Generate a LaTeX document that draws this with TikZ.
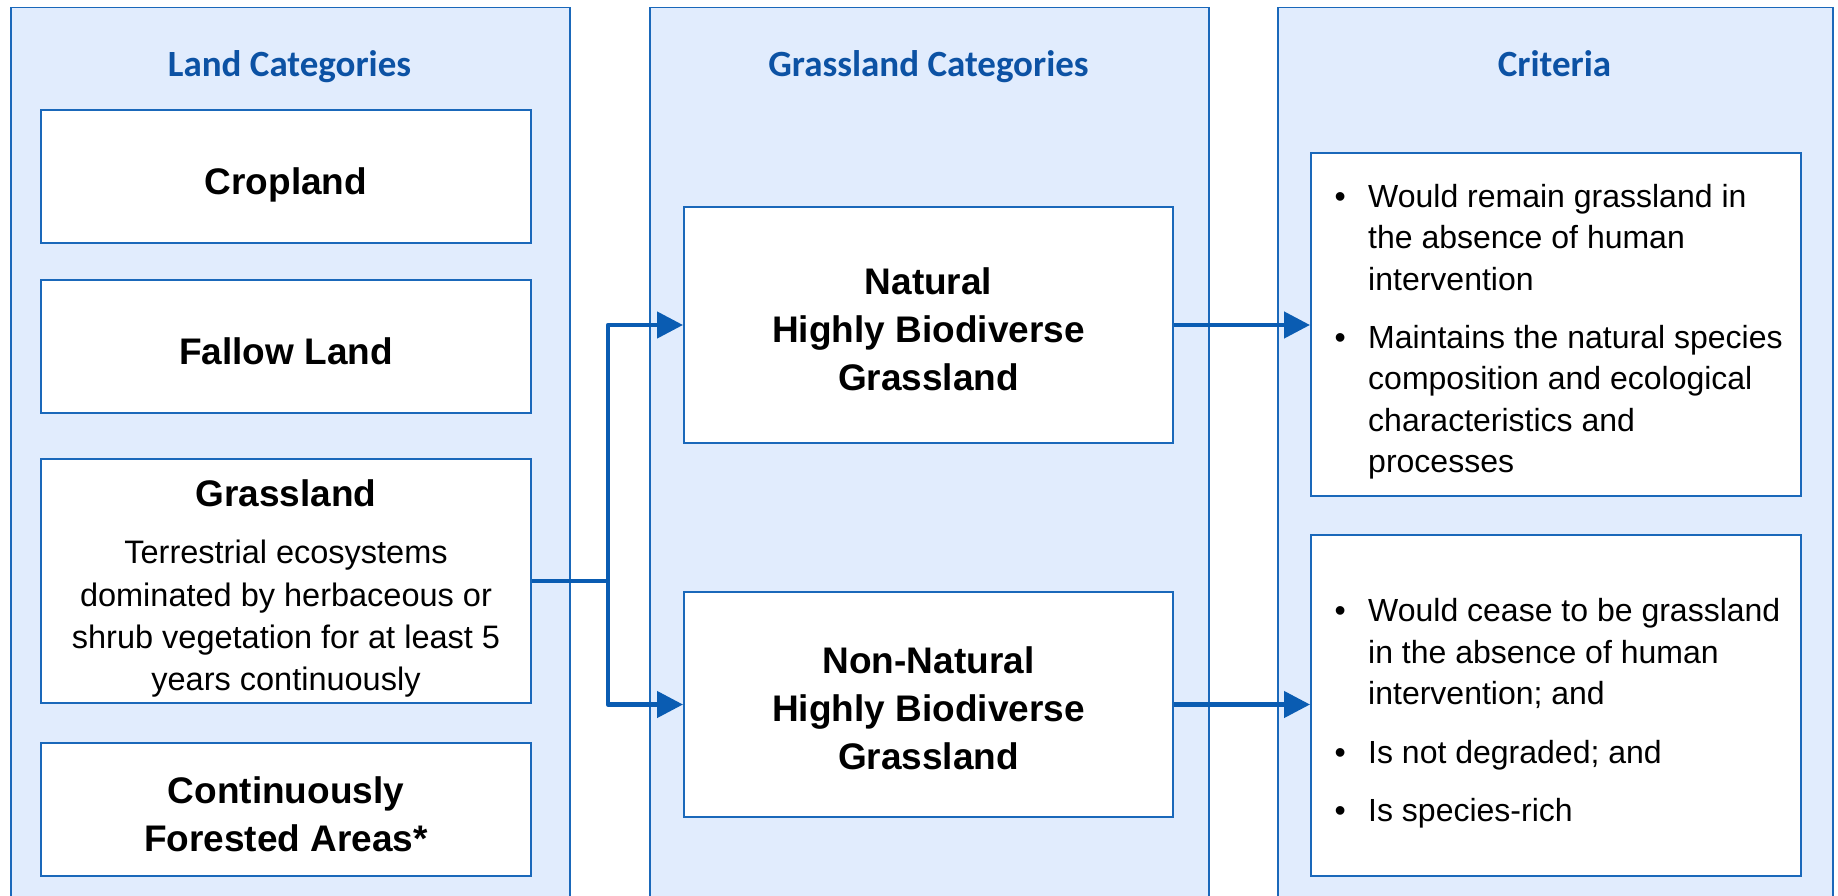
\documentclass[tikz,border=0pt]{standalone}
\usepackage{fontspec}
\setmainfont{Liberation Sans}
\newfontfamily\headfont{Carlito}
\usetikzlibrary{arrows.meta}
\definecolor{colfill}{RGB}{225,236,253}
\definecolor{edgeblue}{RGB}{26,104,186}
\definecolor{flowblue}{RGB}{10,92,178}
\definecolor{titleblue}{RGB}{12,82,164}
\begin{document}
\begin{tikzpicture}[x=1pt,y=-1pt,
  column/.style={draw=edgeblue, line width=1.5pt, fill=colfill, inner sep=0pt, anchor=north west},
  box/.style={draw=edgeblue, line width=2pt, fill=white, inner sep=0pt},
  coltitle/.style={font=\headfont\bfseries\fontsize{37}{44}\selectfont, text=titleblue, inner sep=0pt, anchor=base},
  head/.style={font=\bfseries\fontsize{37}{48}\selectfont, align=center, inner sep=0pt},
  body/.style={font=\fontsize{32.5}{42.3}\selectfont, align=center, inner sep=0pt},
  crit/.style={font=\fontsize{32}{41.4}\selectfont, align=left, inner sep=0pt, anchor=north west},
  flow/.style={draw=flowblue, line width=4.5pt, line join=round, -{Triangle[length=26pt,width=26pt]}}
]
\useasboundingbox (0,0) rectangle (1838,896);

% three column panels (open at the bottom edge)
\node[column, minimum width=559pt, minimum height=900pt] (colL) at (10,7) {};
\node[column, minimum width=559pt, minimum height=900pt] (colM) at (649,7) {};
\node[column, minimum width=555pt, minimum height=900pt] (colR) at (1277,7) {};

% column titles
\node[coltitle] (tL) at (289.5,77) {Land Categories};
\node[coltitle] (tM) at (928.5,77) {Grassland Categories};
\node[coltitle] (tR) at (1554.5,77) {Criteria};

% land categories
\node[box, minimum width=490pt, minimum height=133pt] (crop) at (286,176.5) {};
\node[head, anchor=base] (cropT) at (286,194) {Cropland};
\node[box, minimum width=490pt, minimum height=133pt] (fallow) at (286,346.5) {};
\node[head, anchor=base] (fallowT) at (286,364) {Fallow Land};
\node[box, minimum width=490pt, minimum height=244pt] (grass) at (286,581) {};
\node[head, anchor=base] (grassT) at (286,506) {Grassland};
\node[body, anchor=north] (grassD) at (286,540) {Terrestrial ecosystems\\dominated by herbaceous or\\shrub vegetation for at least 5\\years continuously};
\node[box, minimum width=490pt, minimum height=133pt] (forest) at (286,809.5) {};
\node[head, anchor=north] (forestT) at (286,776) {Continuously\\Forested Areas*};

% grassland categories
\node[box, minimum width=489pt, minimum height=236pt] (natural) at (928.5,325) {};
\node[head, anchor=north] (naturalT) at (928.5,267) {Natural\\Highly Biodiverse\\Grassland};
\node[box, minimum width=489pt, minimum height=225pt] (nonnat) at (928.5,704.5) {};
\node[head, anchor=north] (nonnatT) at (928.5,646) {Non-Natural\\Highly Biodiverse\\Grassland};

% criteria
\node[box, minimum width=490pt, minimum height=343pt] (crit1) at (1556,324.5) {};
\node[crit] (crit1T) at (1334.5,184) {%
\makebox[33.5pt][l]{\textbullet}Would remain grassland in\\
\hspace*{33.5pt}the absence of human\\
\hspace*{33.5pt}intervention\\[17pt]
\makebox[33.5pt][l]{\textbullet}Maintains the natural species\\
\hspace*{33.5pt}composition and ecological\\
\hspace*{33.5pt}characteristics and\\
\hspace*{33.5pt}processes};
\node[box, minimum width=490pt, minimum height=341pt] (crit2) at (1556,705.5) {};
\node[crit] (crit2T) at (1334.5,598.5) {%
\makebox[33.5pt][l]{\textbullet}Would cease to be grassland\\
\hspace*{33.5pt}in the absence of human\\
\hspace*{33.5pt}intervention; and\\[17pt]
\makebox[33.5pt][l]{\textbullet}Is not degraded; and\\[17pt]
\makebox[33.5pt][l]{\textbullet}Is species-rich};

% connectors
\draw[flow] (grass.east) -- ++(76,0) coordinate (split) |- (natural.west);
\draw[flow] (split) |- (nonnat.west);
\draw[flow] (natural.east) -- (natural.east -| crit1.west);
\draw[flow] (nonnat.east) -- (nonnat.east -| crit2.west);
\end{tikzpicture}
\end{document}
